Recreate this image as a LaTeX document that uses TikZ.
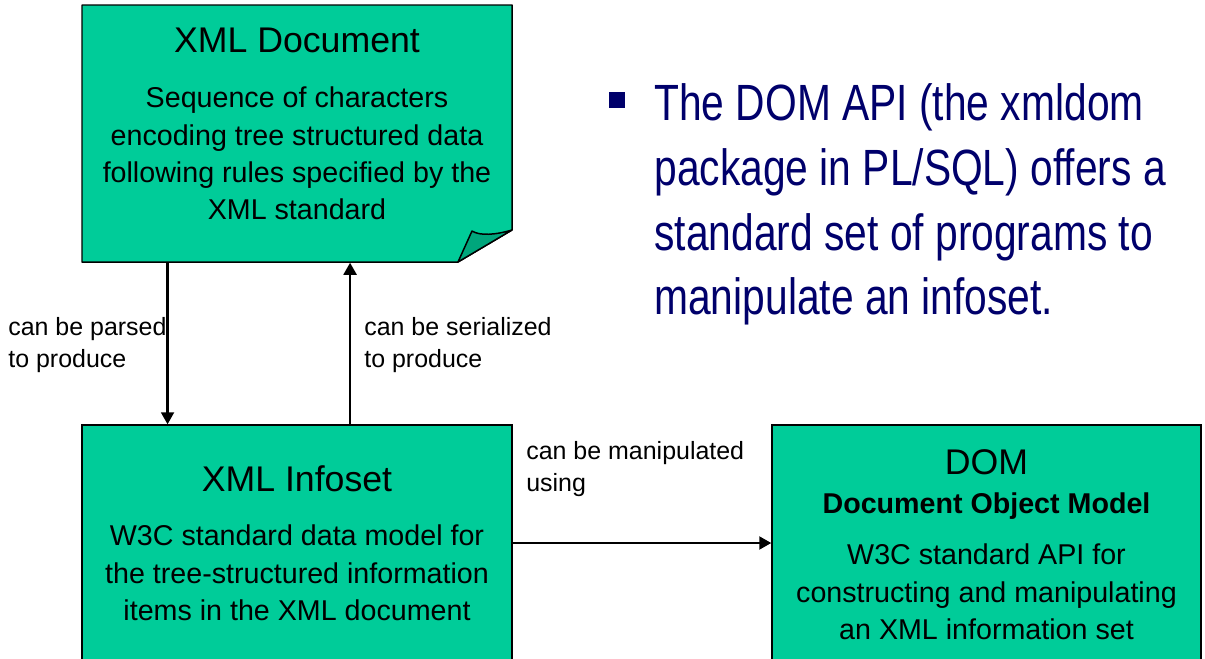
\documentclass[tikz,border=0pt]{standalone}
\usepackage{fontspec}
\setmainfont{Liberation Sans}
\newfontfamily\narrowfont{Liberation Sans}[FakeStretch=0.8]
\usetikzlibrary{arrows.meta,calc}
\definecolor{boxgreen}{HTML}{00CC99}
\definecolor{foldgreen}{HTML}{00A67C}
\definecolor{navy}{HTML}{00006B}
\tikzset{
  box/.style={draw=black, line width=0.85pt, fill=boxgreen, minimum width=8.6cm, inner sep=0pt},
  boxtitle/.style={font=\fontsize{20.3}{24}\selectfont, inner sep=0pt},
  boxbody/.style={font=\fontsize{16.3}{21.2}\selectfont, align=center, inner sep=0pt},
  edgetext/.style={font=\fontsize{14.2}{18.2}\selectfont, align=left, anchor=west, inner sep=0pt},
  flow/.style={line width=1.2pt, -{Triangle[length=0.24cm,width=0.26cm]}},
}
\begin{document}
\begin{tikzpicture}
    \useasboundingbox (0,0) rectangle (24.1,-13.16);

    % XML document, with the folded corner
    \node[box, draw=none, fill=none, minimum height=5.14cm] (doc) at (5.94,-2.67) {};
    \draw[line width=0.85pt, fill=boxgreen, line join=round]
        (1.64,-0.10) -- (10.24,-0.10) -- (10.24,-4.60) -- (9.16,-5.24) -- (1.64,-5.24) -- cycle;
    \draw[line width=0.85pt, fill=foldgreen, line join=round]
        (9.16,-5.24) -- (9.44,-4.62) .. controls (9.6,-4.72) and (9.9,-4.70) .. (10.24,-4.60) -- cycle;
    \node[boxtitle] (docT) at (5.94,-0.80) {XML Document};
    \node[boxbody] (docB) at (5.94,-3.07) {Sequence of characters\\encoding tree structured data\\following rules specified by the\\XML standard};

    % XML infoset
    \node[box, minimum height=4.72cm] (info) at (5.94,-10.86) {};
    \node[boxtitle] (infoT) at (5.94,-9.58) {XML Infoset};
    \node[boxbody] (infoB) at (5.94,-11.46) {W3C standard data model for\\the tree-structured information\\items in the XML document};

    % DOM
    \node[box, minimum width=8.58cm, minimum height=4.72cm] (dom) at (19.73,-10.86) {};
    \node[boxtitle] (domT) at (19.73,-9.24) {DOM};
    \node[boxbody, font=\fontsize{16.3}{21.2}\selectfont\bfseries] (domS) at (19.73,-10.13) {Document Object Model};
    \node[boxbody] (domB) at (19.73,-11.84) {W3C standard API for\\constructing and manipulating\\an XML information set};

    % connectors
    \draw[flow] ($(doc.south west)!0.2!(doc.south east)$) -- ($(info.north west)!0.2!(info.north east)$);
    \draw[flow] ($(info.north west)!0.623!(info.north east)$) -- ($(doc.south west)!0.623!(doc.south east)$);
    \draw[flow] (info.east) -- (dom.west);

    \node[edgetext] (parse) at (0.16,-6.90) {can be parsed\\to produce};
    \node[edgetext] (serial) at (7.28,-6.90) {can be serialized\\to produce};
    \node[edgetext] (manip) at (10.52,-9.38) {can be manipulated\\using};

    % bullet text
    \node[fill=navy, minimum size=0.32cm, inner sep=0pt] (bullet) at (12.33,-1.99) {};
    \node[anchor=west, text=navy, align=left, inner sep=0pt,
          font=\narrowfont\fontsize{29}{36.9}\selectfont] (dompt) at (13.08,-4.09)
        {The DOM API (the xmldom\\package in PL/SQL) offers a\\standard set of programs to\\manipulate an infoset.};
\end{tikzpicture}
\end{document}
